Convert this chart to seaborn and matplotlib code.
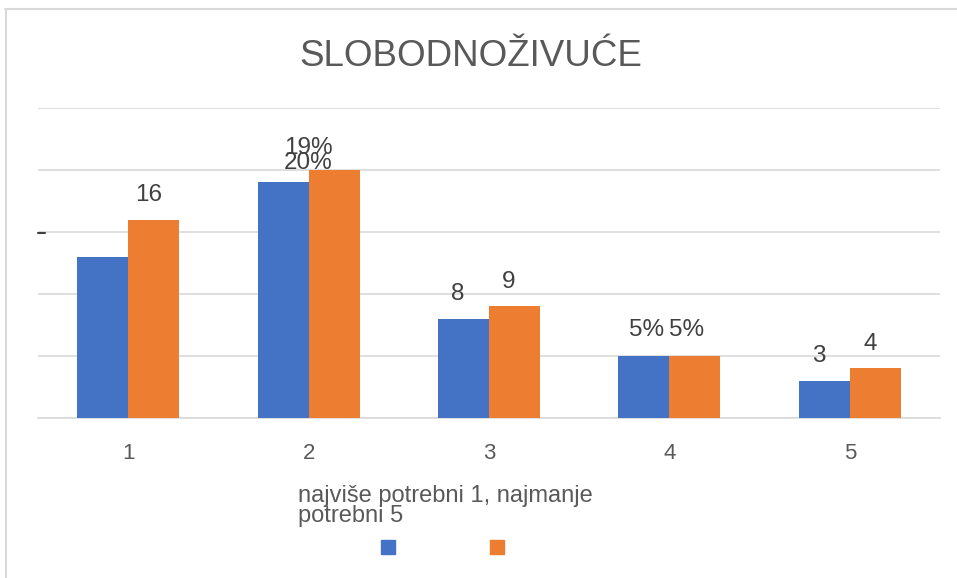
import matplotlib
matplotlib.use("Agg")
import matplotlib.pyplot as plt
import seaborn as sns
import pandas as pd
from matplotlib.lines import Line2D
from matplotlib.patches import Rectangle

categories = ["1", "2", "3", "4", "5"]
series_names = ["A", "B"]
blue_values = [13, 19, 8, 5, 3]
orange_values = [16, 20, 9, 5, 4]
blue_labels = ["", "19%", "8", "5%", "3"]
orange_labels = ["16", "20%", "9", "5%", "4"]
title = "SLOBODNOŽIVUĆE"
xlabel = "najviše potrebni 1, najmanje\npotrebni 5"

sns.set_theme(style="white")
plt.rcParams["font.family"] = ["Liberation Sans", "DejaVu Sans"]

df = pd.DataFrame({
    "cat": categories * 2,
    "val": blue_values + orange_values,
    "ser": [series_names[0]] * 5 + [series_names[1]] * 5,
})

W, H = 957, 578
fig = plt.figure(figsize=(W / 100, H / 100), dpi=100)
ax = fig.add_axes([38 / W, (H - 418) / H, (940 - 38) / W, (418 - 108) / H])

sns.barplot(data=df, x="cat", y="val", hue="ser", order=categories,
            hue_order=series_names, palette=["#4472C4", "#ED7D31"],
            width=0.566, gap=0, saturation=1, legend=False, ax=ax,
            edgecolor="none", linewidth=0, zorder=3)

ax.set_xlim(-0.5, 4.5)
ax.set_ylim(0, 25)
ax.set_yticks([0, 5, 10, 15, 20, 25])
ax.yaxis.grid(True, color="#D9D9D9", linewidth=1.2, zorder=0)
ax.set_yticklabels([])
ax.tick_params(axis="y", length=0)
ax.tick_params(axis="x", length=0, pad=18, labelsize=16, labelcolor="#595959")
for s in ["top", "right", "left"]:
    ax.spines[s].set_visible(False)
ax.spines["bottom"].set_color("#D9D9D9")
ax.spines["bottom"].set_linewidth(1.2)
ax.set_xlabel("")
ax.set_ylabel("")

# data labels
bw = 0.566 / 2
txt_kw = dict(ha="center", va="center", fontsize=17.5, color="#404040")
for i in range(5):
    xb = i - bw / 2
    xo = i + bw / 2
    if i == 1:
        ax.annotate(blue_labels[i], (i, blue_values[i]), xytext=(0, 25),
                    textcoords="offset points", **txt_kw)
        ax.annotate(orange_labels[i], (i, orange_values[i]), xytext=(0, 5),
                    textcoords="offset points", **txt_kw)
        continue
    if i == 3:
        ax.annotate(blue_labels[i], (xb, blue_values[i]), xytext=(2, 18.5),
                    textcoords="offset points", **txt_kw)
        ax.annotate(orange_labels[i], (xo, orange_values[i]), xytext=(-6, 18.5),
                    textcoords="offset points", **txt_kw)
        continue
    if blue_labels[i]:
        ax.annotate(blue_labels[i], (xb, blue_values[i]), xytext=(-4, 17.5),
                    textcoords="offset points", **txt_kw)
    ax.annotate(orange_labels[i], (xo, orange_values[i]), xytext=(-4, 17.5),
                textcoords="offset points", **txt_kw)

# stray axis mark
fig.add_artist(Line2D([38 / W, 45 / W], [1 - 233 / H, 1 - 233 / H],
                      color="#404040", linewidth=1.5, transform=fig.transFigure))

# title
fig.text(471 / W, 1 - 56 / H, title, ha="center", va="center", fontsize=26.5,
         color="#595959")

# x axis title
fig.text(298 / W, 1 - 485 / H, xlabel, ha="left", va="top", fontsize=17,
         color="#595959", linespacing=0.9)

# legend markers (text clipped in reference)
for x0, c in [(381, "#4472C4"), (490, "#ED7D31")]:
    fig.patches.append(Rectangle((x0 / W, 1 - 554 / H), 14 / W, 14 / H,
                                 transform=fig.transFigure, color=c))

# chart border
fig.add_artist(Line2D([5 / W, 1], [1 - 9 / H, 1 - 9 / H], color="#D9D9D9",
                      linewidth=1.5, transform=fig.transFigure))
fig.add_artist(Line2D([6 / W, 6 / W], [1 - 9 / H, 0], color="#D9D9D9",
                      linewidth=1.5, transform=fig.transFigure))

fig.savefig("out.png", dpi=100)
